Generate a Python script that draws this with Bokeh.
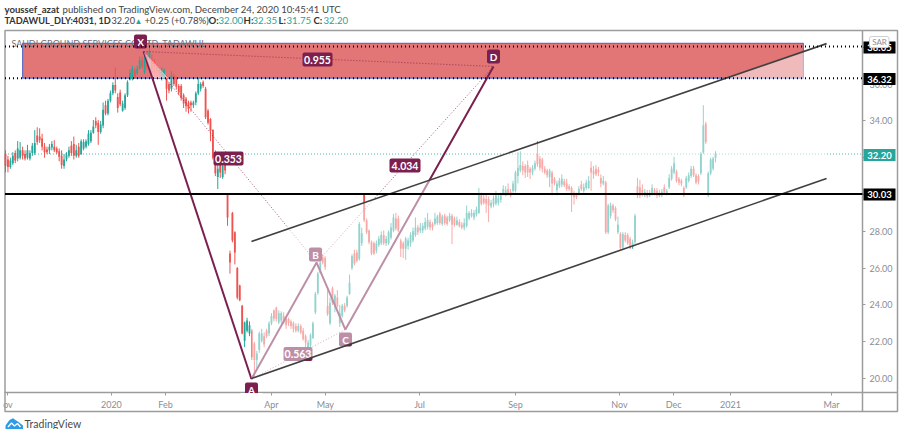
from bokeh.plotting import figure
from bokeh.embed import file_html
from bokeh.resources import INLINE
from bokeh.models import LinearAxis, FixedTicker
from bokeh.core.properties import value

# ---- daily candles (TADAWUL:4031) ----
opens = [
 32.22,31.9,31.5,31.7,32.25,31.95,32.0,32.4,32.2,32.0,
 31.95,32.25,32.25,33.2,33.15,33.05,32.6,32.45,32.4,32.55,
 32.6,32.5,32.35,32.1,31.55,31.9,32.1,32.65,32.75,32.1,
 32.6,32.2,32.5,32.6,32.75,32.9,33.35,34.0,33.9,33.4,
 33.75,34.85,34.4,35.1,35.5,35.95,35.3,35.55,34.55,34.7,
 35.4,36.25,36.3,36.75,36.6,36.85,37.3,36.65,37.5,37.4,
 37.3,37.2,36.95,36.75,36.35,36.4,36.35,36.0,35.75,36.45,
 36.3,35.9,35.9,35.4,35.2,35.0,35.0,34.85,35.0,35.5,
 35.75,36.1,35.75,34.55,34.1,33.5,32.25,30.95,31.7,30.95,
 31.7,30.05,26.8,29.0,27.95,26.0,25.05,23.95,22.05,22.6,
 22.45,22.6,21.9,21.0,21.55,22.05,22.3,22.6,22.45,23.0,
 23.7,23.85,23.05,23.15,23.4,23.25,23.25,23.1,23.0,22.85,
 22.6,22.85,22.6,22.3,21.7,21.8,22.2,23.6,24.65,25.75,
 26.6,26.55,23.95,23.0,24.9,23.95,24.4,23.0,23.4,23.95,
 23.95,24.6,26.0,26.8,26.85,26.5,27.35,30.05,28.6,28.05,
 27.4,27.35,26.95,27.25,27.35,27.8,27.35,27.35,27.65,28.05,
 28.7,28.7,27.5,27.35,27.05,27.2,27.35,27.5,27.8,28.2,
 28.05,28.05,28.15,28.25,28.5,28.4,28.4,28.45,28.95,28.4,
 28.85,28.75,28.6,28.85,28.7,28.35,28.5,28.35,28.2,28.3,
 28.7,28.85,28.75,28.9,29.0,29.95,29.8,29.75,29.75,29.35,
 29.45,29.5,29.55,29.7,30.05,29.95,30.3,30.15,30.2,30.2,
 31.0,31.3,31.55,31.55,31.6,31.4,31.2,31.4,32.2,31.95,
 31.9,31.4,31.3,30.95,31.2,30.85,30.25,30.45,30.55,30.7,
 30.6,30.45,30.35,30.1,30.0,30.05,30.55,30.2,30.35,30.35,
 31.45,31.3,31.4,31.35,30.9,30.6,30.65,27.95,28.85,29.4,
 29.25,27.95,27.85,27.1,27.8,27.8,27.6,27.15,27.4,30.45,
 30.4,30.25,29.95,30.1,29.95,30.05,30.25,30.2,30.1,29.95,
 30.4,30.05,30.4,30.85,31.2,31.25,30.85,30.75,30.35,30.4,
 30.75,31.0,31.4,31.05,31.0,31.15,32.3,33.85,29.95,31.15,
 31.4,32.0]
highs = [
 32.4,32.1,32.0,32.3,32.4,32.9,32.85,32.6,32.4,32.7,
 32.4,32.8,33.5,33.65,33.6,33.3,32.8,32.6,32.75,32.9,
 32.95,32.6,32.5,32.4,32.2,32.3,32.6,32.9,33.15,32.7,
 32.8,33.0,33.0,33.0,33.5,33.5,34.05,34.2,34.05,34.0,
 35.0,35.1,35.2,35.65,36.1,36.9,35.5,35.7,35.1,35.5,
 36.2,36.8,37.0,36.9,37.0,37.5,37.5,37.7,37.8,38.35,
 37.6,37.35,37.05,36.9,36.9,36.85,36.5,36.1,36.7,36.55,
 36.4,36.0,36.0,35.5,35.3,35.1,35.1,35.1,35.6,36.35,
 36.1,36.2,35.85,34.65,34.15,33.55,32.4,31.7,32.0,31.75,
 31.85,30.05,26.95,29.05,28.0,26.05,25.1,24.0,23.1,23.3,
 23.1,22.7,22.0,21.5,22.55,22.7,22.5,22.7,23.1,23.55,
 23.75,23.9,23.7,23.65,23.6,23.35,23.3,23.2,23.1,23.0,
 23.0,22.95,22.75,22.4,22.1,22.45,23.1,24.7,25.8,26.6,
 26.75,26.65,24.8,24.4,25.0,24.6,24.8,24.0,24.05,24.1,
 24.5,25.65,26.75,27.0,27.0,28.5,28.2,30.05,28.7,28.1,
 27.5,27.45,27.5,27.75,28.0,28.05,27.75,28.05,28.45,28.95,
 29.0,28.85,27.6,27.45,27.7,27.65,27.95,28.2,28.75,28.35,
 28.45,28.45,28.75,29.0,28.65,28.5,29.0,28.9,29.05,28.9,
 28.95,28.85,29.0,28.95,28.8,28.8,28.65,28.5,28.7,29.4,
 29.1,29.2,29.15,29.35,30.35,30.1,30.05,30.0,29.9,29.7,
 29.95,30.2,30.0,30.1,30.5,30.45,30.6,30.3,30.75,31.3,
 32.3,32.35,31.8,31.65,31.85,31.5,31.6,31.85,32.9,32.1,
 32.0,31.55,31.4,31.4,31.3,30.95,30.75,30.9,31.1,30.85,
 30.85,30.55,30.45,30.2,30.1,30.45,30.75,30.6,30.8,31.0,
 31.8,31.55,31.6,31.5,31.1,31.0,30.75,29.5,29.55,29.5,
 29.35,28.8,27.95,27.95,27.95,27.9,27.7,27.55,28.95,30.9,
 30.8,30.55,30.3,30.25,30.25,30.55,30.35,30.35,30.25,30.3,
 30.55,30.3,31.1,31.55,32.05,31.35,30.95,30.85,30.45,31.0,
 31.2,31.55,31.55,31.15,31.1,32.3,34.85,33.95,31.25,32.0,
 32.05,32.35]
lows = [
 31.2,31.2,31.4,31.6,31.7,31.8,31.9,31.9,31.85,31.9,
 31.85,32.1,32.15,32.7,32.8,32.4,32.0,32.2,32.2,32.4,
 32.3,32.2,31.8,31.4,31.4,31.8,32.0,32.1,31.9,32.0,
 32.0,32.15,32.4,32.5,32.65,32.8,33.3,33.6,32.7,33.3,
 33.6,34.3,34.3,35.0,35.4,35.5,34.45,34.8,34.5,34.6,
 35.3,36.2,36.2,36.3,36.5,36.8,36.85,36.55,36.8,37.35,
 36.5,36.4,36.3,36.3,36.2,36.3,35.1,35.5,35.6,35.9,
 35.7,35.4,35.1,34.7,34.5,34.4,34.5,34.7,34.85,35.4,
 35.6,35.8,34.1,33.8,32.9,31.9,31.0,30.3,30.9,30.85,
 31.1,28.3,25.7,27.4,26.2,24.3,24.2,22.4,21.7,22.5,
 22.3,21.0,20.1,20.55,21.4,21.95,21.7,22.2,22.3,22.9,
 23.1,23.1,22.95,23.0,22.95,22.7,22.85,22.7,22.5,22.5,
 22.5,22.4,22.05,21.6,21.3,21.7,22.15,23.5,24.55,25.7,
 26.2,25.9,23.4,22.9,24.0,23.6,23.85,22.8,23.3,23.6,
 23.85,24.55,25.9,26.15,26.3,26.4,27.2,28.5,27.85,27.3,
 26.7,26.7,26.8,27.15,27.25,27.25,27.2,27.25,27.55,27.95,
 28.05,27.95,26.6,26.55,26.45,27.0,27.15,27.4,27.7,27.8,
 27.9,27.9,28.05,28.1,28.05,28.05,28.3,28.35,28.35,28.3,
 28.35,28.3,28.5,27.3,28.25,28.3,28.2,28.1,28.05,28.2,
 28.6,28.75,28.6,28.8,28.95,29.4,29.45,29.0,28.5,29.25,
 29.3,29.4,29.4,29.55,29.95,29.9,29.95,29.85,30.1,30.1,
 30.6,31.2,31.05,30.9,30.95,30.85,31.05,31.3,31.5,31.3,
 31.2,31.1,30.9,30.4,29.95,30.5,29.95,30.35,30.4,30.4,
 30.2,30.2,29.05,29.45,29.75,29.95,30.2,30.1,30.25,30.3,
 30.2,30.85,31.0,31.0,30.4,30.5,27.85,27.85,28.7,29.0,
 28.55,27.85,27.0,27.0,27.4,27.25,27.05,27.05,27.3,29.8,
 29.8,29.9,29.85,29.8,29.85,29.95,29.95,29.8,29.85,29.85,
 30.0,29.95,30.3,30.75,31.1,30.65,30.5,30.45,29.85,30.3,
 30.65,30.9,30.95,30.55,30.55,31.05,32.2,32.75,29.85,31.05,
 31.3,31.75]
closes = [
 31.55,31.5,31.85,32.1,31.85,32.5,32.4,32.1,31.95,32.4,
 32.25,32.65,32.8,32.85,32.95,32.6,32.3,32.3,32.6,32.75,
 32.4,32.3,32.05,31.6,31.9,32.15,32.4,32.25,32.1,32.4,
 32.1,32.9,32.85,32.9,33.3,33.35,33.7,33.75,33.4,33.8,
 34.6,34.4,35.1,35.5,35.95,35.65,34.7,34.9,34.95,35.4,
 36.1,36.6,36.85,36.4,36.85,37.3,36.95,37.4,36.95,37.8,
 36.6,36.6,36.6,36.45,36.75,36.75,35.75,35.65,36.45,36.0,
 35.85,35.55,35.25,34.95,34.8,34.65,34.85,35.0,35.5,36.0,
 36.0,35.9,34.2,33.9,33.45,32.0,31.15,31.4,31.2,31.55,
 31.3,28.75,26.3,27.5,26.85,24.4,24.25,22.45,23.05,23.15,
 22.9,21.15,21.0,21.35,22.45,22.45,21.85,22.3,23.0,23.4,
 23.25,23.25,23.55,23.55,23.05,22.9,23.0,22.85,22.7,22.6,
 22.85,22.5,22.15,21.95,21.95,22.35,23.0,24.6,25.7,26.3,
 26.3,26.05,23.5,24.1,24.1,24.5,23.95,23.55,23.95,23.7,
 24.4,25.2,26.65,26.25,26.4,28.4,27.9,28.6,27.95,27.4,
 26.8,26.8,27.35,27.6,27.8,27.35,27.6,27.95,28.2,28.75,
 28.15,28.05,27.05,27.05,27.6,27.5,27.8,28.0,28.2,27.95,
 28.2,28.3,28.5,28.6,28.2,28.2,28.7,28.8,28.45,28.8,
 28.45,28.4,28.85,28.35,28.35,28.6,28.3,28.2,28.45,29.0,
 29.0,29.0,29.0,29.2,30.05,29.5,29.55,29.5,29.4,29.55,
 29.8,29.95,29.8,29.95,30.3,30.25,30.05,29.95,30.6,31.2,
 31.45,31.6,31.3,31.2,31.2,31.2,31.45,31.7,31.65,31.45,
 31.4,31.2,31.05,31.3,30.6,30.6,30.6,30.75,30.85,30.5,
 30.3,30.3,29.95,29.85,29.85,30.3,30.3,30.4,30.65,30.75,
 31.2,31.1,31.1,31.2,30.6,30.75,27.95,29.4,29.4,29.15,
 28.65,28.35,27.1,27.85,27.5,27.35,27.15,27.4,28.85,29.95,
 29.95,30.1,30.15,29.9,30.1,30.35,30.05,29.95,29.95,30.15,
 30.1,30.2,30.9,31.4,31.7,30.75,30.65,30.6,29.95,30.9,
 31.05,31.4,31.05,30.65,30.7,32.2,33.75,32.85,31.15,31.9,
 31.95,32.2]

# ---- axes ----
time_tick_pos = [1.0, 43.4, 65.6, 109.0, 131.1, 169.7, 209.0, 251.6, 273.8, 297.1, 338.5]
time_tick_labels = ["ov", "2020", "Feb", "Apr", "May", "Jul", "Sep", "Nov", "Dec", "2021", "Mar"]
price_ticks = [20, 22, 24, 26, 28, 30, 32, 34, 36, 38]

# ---- drawings (bar index, price) ----
pat_names = ["X", "A", "B", "C", "D"]
pat_x = [56.6, 100.8, 127.5, 139.3, 200.0]
pat_y = [37.77, 19.97, 26.3, 22.66, 36.96]
channel_x = [100.8, 336.5]
channel_upper = [27.45, 38.2]
channel_lower = [20.0, 30.87]
zone_left, zone_right, zone_top, zone_bottom = 7.0, 327.0, 38.21, 36.32
level_solid = 30.03
level_dotted = [36.32, 38.05]
last_price = 32.20

# pixel geometry of the 900x429 canvas
BAR_PX, X0_PX, PRICE_PX, Y20_PX = 2.44, 5.0, 18.4, 378.0
W, H = 900, 429
def xp(px): return (px - X0_PX) / BAR_PX
def yp(py): return 20 + (Y20_PX - py) / PRICE_PX

p = figure(width=W, height=H, output_backend="svg", toolbar_location=None,
           x_range=(xp(0), xp(W)), y_range=(yp(H), yp(0)),
           x_axis_location=None, y_axis_location=None,
           min_border=0, min_border_left=0, min_border_right=0, min_border_top=0, min_border_bottom=0,
           outline_line_color=None)
p.grid.visible = False

FONT = "Lato"
GRAY = "#8a8d96"
FRAME = "#9c9c9c"
TEAL, RED = "#26a69a", "#ef5350"
PLUM = "#7b1f4f"

def txt(px, py, s, color="#333333", size="9.6px", style="normal", align="left", font=FONT):
    p.text([xp(px)], [yp(py)], text=[s], text_color=color, text_font_size=size, text_font_style=style,
           text_align=align, text_baseline="middle", text_font=value(font))

# axes, under everything else
xax = LinearAxis(fixed_location=yp(392), ticker=FixedTicker(ticks=time_tick_pos),
                 major_label_overrides={t: l for t, l in zip(time_tick_pos, time_tick_labels)},
                 bounds=(xp(4), xp(897)), axis_line_color=FRAME, axis_line_width=1.5,
                 major_tick_line_color=FRAME, major_tick_out=3, major_tick_in=0, minor_tick_line_color=None,
                 major_label_text_color=GRAY, major_label_text_font=FONT, major_label_text_font_size="9px",
                 major_label_standoff=3, level="underlay")
yax = LinearAxis(fixed_location=xp(862), ticker=FixedTicker(ticks=price_ticks),
                 major_label_overrides={t: f"{t:.2f}" for t in price_ticks},
                 bounds=(yp(411), yp(30)), axis_line_color=FRAME, axis_line_width=1.5,
                 major_tick_line_color=FRAME, major_tick_out=3, major_tick_in=0, minor_tick_line_color=None,
                 major_label_text_color=GRAY, major_label_text_font=FONT, major_label_text_font_size="9px",
                 major_label_standoff=4, level="underlay")
p.add_layout(xax, "below")
p.add_layout(yax, "right")

# outer pane box
p.quad(left=[xp(4.5)], right=[xp(897)], top=[yp(30)], bottom=[yp(411)], fill_color=None,
       line_color=FRAME, line_width=1.5)

# supply zone
p.quad(left=[zone_left], right=[zone_right], top=[zone_top], bottom=[zone_bottom],
       fill_color="#e27575", line_color="#5f6fc4", line_width=1.2)

txt(11, 43, "SAUDI GROUND SERVICES CO. LTD, TADAWUL", color="#6f7278", size="9px")

# last price line
p.line([xp(4.5), xp(862)], [last_price, last_price], line_color=TEAL, line_width=1, line_dash=[1, 2], line_alpha=0.8)

# candles
xs = list(range(len(closes)))
cols = [TEAL if c >= o else RED for o, c in zip(opens, closes)]
p.segment(xs, lows, xs, highs, line_color=cols, line_width=1)
p.vbar(x=xs, width=0.75, top=[max(a, b) for a, b in zip(opens, closes)],
       bottom=[min(a, b) for a, b in zip(opens, closes)], fill_color=cols, line_color=None)

# XABCD pattern
p.line([pat_x[0], pat_x[1]], [pat_y[0], pat_y[1]], line_color=PLUM, line_width=2)
p.line([pat_x[1], pat_x[2], pat_x[3], pat_x[4]], [pat_y[1], pat_y[2], pat_y[3], pat_y[4]], line_color=PLUM, line_width=2)
for a, b in [(0, 2), (1, 3), (2, 4), (0, 4)]:
    p.line([pat_x[a], pat_x[b]], [pat_y[a], pat_y[b]], line_color=PLUM, line_width=1, line_dash=[1, 2], line_alpha=0.75)

# tags
def tag(px, py, w, h, s, size="10px"):
    p.quad(left=[xp(px - w / 2)], right=[xp(px + w / 2)], top=[yp(py - h / 2)], bottom=[yp(py + h / 2)],
           fill_color=PLUM, line_color=None, border_radius=2)
    txt(px, py, s, color="#ffffff", size=size, style="bold", align="center")

tag(140, 41, 13, 14, "X")
tag(493, 56, 13, 14, "D")
tag(251, 389, 13, 14, "A")
tag(315, 254, 13, 14, "B")
tag(345, 339, 13, 14, "C")
tag(228, 158, 30, 14, "0.353", "10.5px")
tag(317, 59, 30, 14, "0.955", "10.5px")
tag(404.5, 165, 31, 14, "4.034", "10.5px")
tag(297.5, 353.5, 29, 14, "0.563", "10.5px")

# white veil of the parallel channel, and of the small triangle below X
p.patch([channel_x[0], channel_x[1], channel_x[1], channel_x[0]],
        [channel_lower[0], channel_lower[1], channel_upper[1], channel_upper[0]],
        fill_color="#ffffff", fill_alpha=0.5, line_color=None)
p.patch([pat_x[0], xp(168), xp(153)], [pat_y[0], zone_bottom, zone_bottom], fill_color="#ffffff", fill_alpha=0.5, line_color=None)

# the A tag is cut by the time axis
p.quad(left=[xp(240)], right=[xp(262)], top=[yp(392.6)], bottom=[yp(397)], fill_color="#ffffff", line_color=None)

# channel lines
p.line(channel_x, channel_upper, line_color="#404040", line_width=1.6)
p.line(channel_x, channel_lower, line_color="#404040", line_width=1.6)

# levels
p.line([xp(4.5), xp(862)], [level_solid, level_solid], line_color="#000000", line_width=2)
for lv in level_dotted:
    p.line([xp(4.5), xp(862)], [lv, lv], line_color="#000000", line_width=2, line_dash=[1, 3])

# right-hand price labels
def price_box(py, s, fill):
    p.quad(left=[xp(863)], right=[xp(895)], top=[yp(py - 6)], bottom=[yp(py + 6)], fill_color=fill, line_color=None)
    txt(879, py, s, color="#ffffff", size="9.5px", style="bold", align="center")

price_box(47, f"{level_dotted[1]:.2f}", "#000000")
price_box(78.5, f"{level_dotted[0]:.2f}", "#000000")
price_box(154.5, f"{last_price:.2f}", TEAL)
price_box(194, f"{level_solid:.2f}", "#000000")
p.quad(left=[xp(869)], right=[xp(888.5)], top=[yp(36)], bottom=[yp(47)], fill_color="#ffffff", line_color="#cfcfcf", border_radius=2)
txt(879, 41.5, "SAR", color=GRAY, size="8px", align="center")

# header
txt(4, 9, "youssef_azat", style="bold")
txt(62, 9, "published on TradingView.com, December 24, 2020 10:45:41 UTC", color="#444444")
txt(4, 20, "TADAWUL_DLY:4031, 1D", style="bold", size="9.2px")
txt(111, 20, "32.20", color="#444444", size="9.2px")
txt(134, 20, "\u25b2", color=TEAL, size="8px")
txt(144, 20, "+0.25 (+0.78%)", color="#444444")
for px, lab, vx, val in [(208, "O:", 218, "32.00"), (243, "H:", 252, "32.35"), (278, "L:", 286, "31.75"), (313, "C:", 323, "32.20")]:
    txt(px, 20, lab, style="bold")
    txt(vx, 20, val, color=TEAL)

# footer logo
p.patch([xp(a) for a in (5, 5, 9, 12.5, 15, 18, 22.5, 22.5)], [yp(b) for b in (428.5, 425, 419.5, 417.8, 419.5, 421.5, 425, 428.5)],
        fill_color="#2e9ce6", line_color=None)
p.line([xp(a) for a in (7.5, 11, 14, 17, 20)], [yp(b) for b in (426.5, 422.5, 425.5, 423, 426.5)], line_color="#ffffff", line_width=1.3)
txt(24, 423.5, "TradingView", color="#4a4a4a", size="10.5px")

open("out.html", "w").write(file_html(p, INLINE))
